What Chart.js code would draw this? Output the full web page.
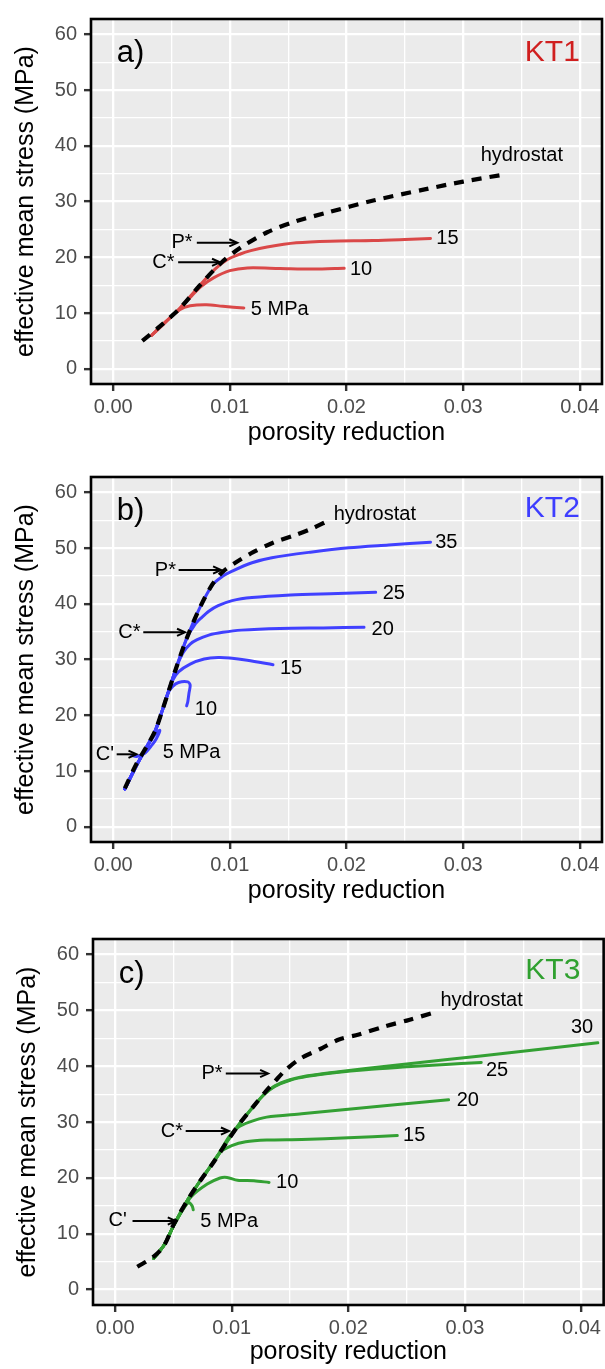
<!DOCTYPE html>
<html><head><meta charset="utf-8">
<script src="https://cdn.jsdelivr.net/npm/chart.js@4"></script>
<style>
html,body{margin:0;padding:0;background:#fff;}
body{width:605px;height:1369px;position:relative;overflow:hidden;}
canvas{position:absolute;display:block;}
</style></head><body>
<canvas id="pa" width="605" height="455" style="left:0;top:0"></canvas>
<canvas id="pb" width="605" height="455" style="left:0;top:458px"></canvas>
<canvas id="pc" width="603" height="449" style="left:2px;top:920px"></canvas>
<script>
// ---------------- shared axes ----------------
const xTickValues = [0, 0.005, 0.01, 0.015, 0.02, 0.025, 0.03, 0.035, 0.04];
const xTickLabels = ['0.00', '', '0.01', '', '0.02', '', '0.03', '', '0.04'];
const yTickValues = [0, 5, 10, 15, 20, 25, 30, 35, 40, 45, 50, 55, 60];
const yTickLabels = ['0', '', '10', '', '20', '', '30', '', '40', '', '50', '', '60'];
const xRange = [-0.0019, 0.0419];
const yRange = [-2.75, 62.8];
const xTitle = 'porosity reduction';
const yTitle = 'effective mean stress (MPa)';

// ---------------- KT1 (panel a) ----------------
const kt1Hydrostat = [[0.0025,5.0],[0.0040,7.6],[0.0057,10.8],[0.0074,14.9],[0.0092,18.9],[0.0109,21.7],[0.0132,24.5],[0.0157,26.5],[0.0183,28.0],[0.0223,30.2],[0.0267,32.2],[0.0300,33.6],[0.0336,34.9]];
const kt1_5MPa  = [[0.0033,6.0],[0.0045,8.4],[0.0057,10.6],[0.0066,11.3],[0.0080,11.5],[0.0094,11.2],[0.0112,10.9]];
const kt1_10MPa = [[0.0033,6.0],[0.0045,8.4],[0.0057,10.8],[0.0066,12.8],[0.0075,14.7],[0.0086,16.3],[0.0100,17.6],[0.0115,18.1],[0.0143,18.0],[0.0172,17.9],[0.0198,18.05]];
const kt1_15MPa = [[0.0033,6.0],[0.0045,8.4],[0.0057,10.8],[0.0074,14.9],[0.0088,18.0],[0.0098,19.6],[0.0109,20.6],[0.0118,21.2],[0.0132,21.85],[0.0157,22.6],[0.0186,22.9],[0.0223,23.0],[0.0250,23.2],[0.0272,23.4]];
const kt1Labels = [['hydrostat',0.0315,38.2],['15',0.0277,23.3],['10',0.0203,17.8],['5 MPa',0.0118,10.7]];
const kt1Arrows = [['P*',0.0050,0.00717,0.01064,22.6],['C*',0.00336,0.00557,0.00916,19.1]];

// ---------------- KT2 (panel b) ----------------
const kt2Hydrostat = [[0.0010,6.9],[0.0020,11.3],[0.0029,14.5],[0.0036,17.2],[0.0042,20.8],[0.0047,24.0],[0.0054,28.5],[0.0063,33.8],[0.0074,39.2],[0.0085,43.5],[0.0094,45.8],[0.0104,47.3],[0.0120,49.3],[0.0137,51.0],[0.0155,52.3],[0.0170,53.5],[0.0184,54.9]];
const kt2_5MPa  = [[0.0010,6.8],[0.0020,11.0],[0.0029,14.4],[0.0036,16.6],[0.0040,17.3],[0.0037,15.8],[0.0033,14.6],[0.0027,13.2],[0.0020,12.6],[0.0016,12.8]];
const kt2_10MPa = [[0.0010,6.8],[0.0020,11.0],[0.0029,14.4],[0.0036,17.2],[0.0042,20.8],[0.0047,24.0],[0.0051,25.2],[0.0056,25.9],[0.0064,26.0],[0.0066,25.4],[0.0065,24.0],[0.0064,22.5],[0.0063,21.7]];
const kt2_15MPa = [[0.0010,6.8],[0.0020,11.0],[0.0029,14.4],[0.0036,17.2],[0.0042,20.8],[0.0047,24.0],[0.0051,26.3],[0.0056,27.8],[0.0066,29.2],[0.0078,30.1],[0.0090,30.4],[0.0100,30.3],[0.0115,29.9],[0.0137,29.1]];
const kt2_20MPa = [[0.0010,6.8],[0.0020,11.0],[0.0029,14.4],[0.0036,17.2],[0.0042,20.8],[0.0047,24.0],[0.0054,28.5],[0.0060,31.3],[0.0066,32.8],[0.0072,33.6],[0.0082,34.4],[0.0094,34.9],[0.0110,35.3],[0.0143,35.6],[0.0180,35.7],[0.0215,35.8]];
const kt2_25MPa = [[0.0010,6.8],[0.0020,11.0],[0.0029,14.4],[0.0036,17.2],[0.0042,20.8],[0.0047,24.0],[0.0054,28.5],[0.0063,33.8],[0.0070,36.3],[0.0076,37.6],[0.0082,38.7],[0.0090,39.7],[0.0102,40.6],[0.0119,41.15],[0.0152,41.6],[0.0186,41.85],[0.0225,42.1]];
const kt2_35MPa = [[0.0010,6.8],[0.0020,11.0],[0.0029,14.4],[0.0036,17.2],[0.0042,20.8],[0.0047,24.0],[0.0054,28.5],[0.0063,33.8],[0.0074,39.2],[0.0085,43.4],[0.0094,45.0],[0.0102,45.9],[0.0119,47.4],[0.0136,48.3],[0.0169,49.3],[0.0202,50.1],[0.0236,50.6],[0.0272,51.1]];
const kt2Labels = [['hydrostat',0.0189,56.1],['35',0.0276,51.0],['25',0.0231,41.9],['20',0.02215,35.4],['15',0.0143,28.5],['10',0.0070,21.0],['5 MPa',0.00424,13.4]];
const kt2Arrows = [['P*',0.00357,0.00561,0.00925,46.1],['C*',0.00043,0.00258,0.00616,34.9],["C'",-0.00149,0.0003,0.0020,13.0]];

// ---------------- KT3 (panel c) ----------------
const kt3Hydrostat = [[0.0019,4.1],[0.0033,5.9],[0.0042,7.9],[0.0050,11.6],[0.0062,16.0],[0.0073,19.5],[0.0085,23.0],[0.0096,26.5],[0.0107,29.8],[0.0119,32.9],[0.0128,35.2],[0.0137,37.3],[0.0146,39.3],[0.0159,41.4],[0.0176,43.1],[0.0192,44.8],[0.0209,45.7],[0.0232,47.2],[0.0252,48.3],[0.0273,49.6]];
const kt3_5MPa  = [[0.0033,5.6],[0.0042,8.0],[0.0050,11.4],[0.0058,14.3],[0.0063,15.6],[0.0066,15.0],[0.0067,14.3]];
const kt3_10MPa = [[0.0033,5.6],[0.0042,8.0],[0.0050,11.4],[0.0058,14.3],[0.0065,16.6],[0.0079,18.9],[0.0090,20.0],[0.0096,20.1],[0.0105,19.6],[0.0119,19.5],[0.0132,19.2]];
const kt3_15MPa = [[0.0033,5.6],[0.0042,8.0],[0.0050,11.4],[0.0062,16.0],[0.0073,19.5],[0.0082,22.2],[0.0090,24.6],[0.0100,25.8],[0.0112,26.5],[0.0130,26.8],[0.0160,26.9],[0.0200,27.2],[0.0242,27.6]];
const kt3_20MPa = [[0.0033,5.6],[0.0042,8.0],[0.0050,11.4],[0.0062,16.0],[0.0073,19.5],[0.0085,23.0],[0.0093,25.8],[0.0098,27.5],[0.0105,29.0],[0.0115,30.0],[0.0130,30.9],[0.0160,31.5],[0.0200,32.3],[0.0240,33.1],[0.0286,34.0]];
const kt3_25MPa = [[0.0033,5.6],[0.0042,8.0],[0.0050,11.4],[0.0062,16.0],[0.0073,19.5],[0.0085,23.0],[0.0096,26.5],[0.0107,29.8],[0.0119,32.9],[0.0128,35.0],[0.0137,36.4],[0.0150,37.5],[0.0165,38.2],[0.0190,38.9],[0.0215,39.4],[0.0250,39.9],[0.0280,40.3],[0.0314,40.7]];
const kt3_30MPa = [[0.0033,5.6],[0.0042,8.0],[0.0050,11.4],[0.0062,16.0],[0.0073,19.5],[0.0085,23.0],[0.0096,26.5],[0.0107,29.8],[0.0119,32.9],[0.0128,35.0],[0.0137,36.5],[0.0150,37.6],[0.0165,38.3],[0.0190,39.0],[0.0215,39.6],[0.0250,40.4],[0.0285,41.2],[0.0342,42.5],[0.0380,43.4],[0.0414,44.2]];
const kt3Labels = [['hydrostat',0.0279,51.7],['30',0.0391,46.9],['25',0.0318,39.2],['20',0.0293,33.8],['15',0.0247,27.6],['10',0.0138,19.2],['5 MPa',0.0073,12.2]];
const kt3Arrows = [['P*',0.0074,0.00949,0.01312,38.7],['C*',0.00391,0.00605,0.00976,28.4],["C'",-0.00057,0.00149,0.0052,12.3]];

// panel tags / sample names: [text, x, y]
const panelTags = [['a)',0.0003,55.0],['b)',0.0003,55.0],['c)',0.0003,55.0]];
const sampleNames = [['KT1',0.0400,55.3],['KT2',0.0400,55.6],['KT3',0.0399,55.6]];

// ---------------- drawing ----------------
const FONT = '"Liberation Sans", Arial, Helvetica, sans-serif';
Chart.defaults.font.family = FONT;

const pts = arr => arr.map(([x, y]) => ({x, y}));

const decoPlugin = {
  id: 'deco',
  beforeDraw(chart) {
    const {ctx, chartArea: a} = chart;
    ctx.save();
    ctx.fillStyle = '#EBEBEB';
    ctx.fillRect(a.left, a.top, a.right - a.left, a.bottom - a.top);
    ctx.restore();
  },
  afterDatasetsDraw(chart, args, o) {
    const {ctx} = chart;
    const sx = chart.scales.x, sy = chart.scales.y;
    ctx.save();
    ctx.fillStyle = '#000';
    ctx.font = '20px ' + FONT;
    ctx.textAlign = 'left';
    ctx.textBaseline = 'middle';
    o.labels.forEach(([t, x, y]) => ctx.fillText(t, sx.getPixelForValue(x), sy.getPixelForValue(y)));
    ctx.strokeStyle = '#000';
    ctx.lineWidth = 2;
    o.arrows.forEach(([t, xt, x1, x2, y]) => {
      const py = sy.getPixelForValue(y);
      ctx.fillText(t, sx.getPixelForValue(xt), py);
      const p1 = sx.getPixelForValue(x1), p2 = sx.getPixelForValue(x2);
      ctx.beginPath(); ctx.moveTo(p1, py); ctx.lineTo(p2 - 1, py); ctx.stroke();
      ctx.beginPath(); ctx.moveTo(p2 - 8, py - 3.6); ctx.lineTo(p2, py); ctx.lineTo(p2 - 8, py + 3.6); ctx.stroke();
    });
    ctx.textBaseline = 'alphabetic';
    ctx.font = '31px ' + FONT;
    ctx.fillText(o.tag[0], sx.getPixelForValue(o.tag[1]), sy.getPixelForValue(o.tag[2]));
    ctx.textAlign = 'right';
    ctx.font = '30px ' + FONT;
    ctx.fillStyle = o.nameColor;
    ctx.fillText(o.name[0], sx.getPixelForValue(o.name[1]), sy.getPixelForValue(o.name[2]));
    ctx.restore();
  },
  afterDraw(chart) {
    const {ctx, chartArea: a} = chart;
    ctx.save();
    ctx.strokeStyle = '#000';
    ctx.lineWidth = 2.6;
    ctx.strokeRect(a.left, a.top, a.right - a.left, a.bottom - a.top);
    ctx.restore();
  }
};

function makePanel(id, p) {
  const datasets = [{
    data: pts(p.hydro), borderColor: '#000', borderWidth: 4.2, borderDash: [10, 8],
    pointRadius: 0, tension: 0.3, fill: false
  }];
  p.curves.forEach(c => datasets.push({
    data: pts(c), borderColor: p.color, borderWidth: 3, pointRadius: 0,
    tension: 0.3, fill: false, borderCapStyle: 'round', borderJoinStyle: 'round'
  }));
  const canvas = document.getElementById(id);
  return new Chart(canvas, {
    type: 'line',
    data: {datasets},
    plugins: [decoPlugin],
    options: {
      responsive: false, animation: false, events: [], devicePixelRatio: 1,
      parsing: false,
      layout: {padding: {top: 9, right: p.padRight, left: 0, bottom: 0}},
      plugins: {
        legend: {display: false}, tooltip: {enabled: false}, title: {display: false},
        deco: {labels: p.labels, arrows: p.arrows, tag: p.tag, name: p.name, nameColor: p.nameColor}
      },
      scales: {
        x: {
          type: 'linear', position: 'bottom', min: xRange[0], max: xRange[1],
          afterBuildTicks: s => { s.ticks = xTickValues.map(v => ({value: v})); },
          afterFit: s => { s.height = p.xAxisHeight; },
          ticks: {
            autoSkip: false, maxRotation: 0, minRotation: 0, padding: 4,
            color: '#4D4D4D', font: {size: 20},
            callback: (v, i) => xTickLabels[i]
          },
          grid: {
            color: '#FFFFFF', drawTicks: true, tickLength: 7, tickWidth: 2.4,
            lineWidth: c => xTickLabels[c.index] === '' ? 1.3 : 2.3,
            tickColor: c => xTickLabels[c.index] === '' ? 'rgba(0,0,0,0)' : '#333333'
          },
          border: {display: false},
          title: {display: true, text: xTitle, color: '#000', font: {size: 25}, padding: {top: 0, bottom: p.xTitlePad}}
        },
        y: {
          type: 'linear', min: yRange[0], max: yRange[1],
          afterBuildTicks: s => { s.ticks = yTickValues.map(v => ({value: v})); },
          afterFit: s => { s.width = 91; },
          ticks: {
            autoSkip: false, padding: 7, color: '#4D4D4D', font: {size: 20},
            callback: (v, i) => yTickLabels[i]
          },
          grid: {
            color: '#FFFFFF', drawTicks: true, tickLength: 7, tickWidth: 2.4,
            lineWidth: c => yTickLabels[c.index] === '' ? 1.3 : 2.3,
            tickColor: c => yTickLabels[c.index] === '' ? 'rgba(0,0,0,0)' : '#333333'
          },
          border: {display: false},
          title: {display: true, text: yTitle, color: '#000', font: {size: 25}, padding: {top: 11.3, bottom: 0}}
        }
      }
    }
  });
}

makePanel('pa', {
  hydro: kt1Hydrostat, curves: [kt1_15MPa, kt1_10MPa, kt1_5MPa], color: '#DA4848',
  labels: kt1Labels, arrows: kt1Arrows, tag: panelTags[0], name: sampleNames[0], nameColor: '#D01F1F',
  padRight: 3, xAxisHeight: 71, xTitlePad: 7
});
makePanel('pb', {
  hydro: kt2Hydrostat, curves: [kt2_35MPa, kt2_25MPa, kt2_20MPa, kt2_15MPa, kt2_10MPa, kt2_5MPa], color: '#4040FF',
  labels: kt2Labels, arrows: kt2Arrows, tag: panelTags[1], name: sampleNames[1], nameColor: '#3D3DFF',
  padRight: 3, xAxisHeight: 71, xTitlePad: 7
});
makePanel('pc', {
  hydro: kt3Hydrostat, curves: [kt3_30MPa, kt3_25MPa, kt3_20MPa, kt3_15MPa, kt3_10MPa, kt3_5MPa], color: '#33A033',
  labels: kt3Labels, arrows: kt3Arrows, tag: panelTags[2], name: sampleNames[2], nameColor: '#2FA02F',
  padRight: 1, xAxisHeight: 64, xTitlePad: 2
});
</script>
</body></html>
